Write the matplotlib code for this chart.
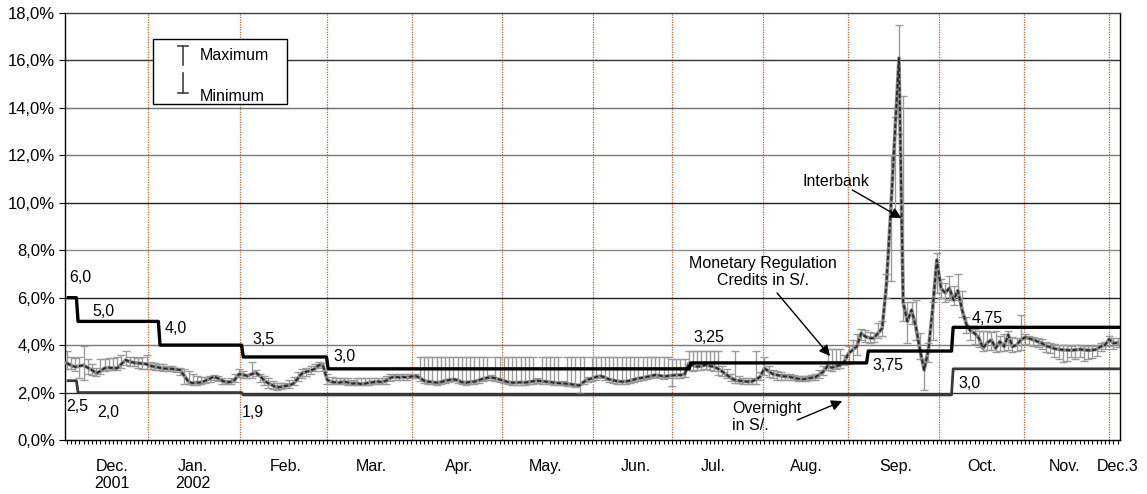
import numpy as np
import matplotlib
matplotlib.use("Agg")
import matplotlib.pyplot as plt
from matplotlib.patches import Rectangle
from matplotlib.lines import Line2D
from matplotlib.ticker import FuncFormatter

plt.rcParams['font.family'] = ['Liberation Sans', 'DejaVu Sans']

# interbank rate (%), one value per business day, Dec 2001 - Dec 3 2002
rate_dec01 = [3.24, 3.15, 3.08, 3.12, 3.15, 3.05, 2.95, 2.82, 2.90, 3.03, 3.05, 3.03, 3.03, 3.20, 3.37, 3.30, 3.26, 3.24, 3.22, 3.20]
rate_jan = [3.12, 3.09, 3.05, 3.02, 3.00, 3.00, 2.98, 2.95, 2.70, 2.45, 2.40, 2.42, 2.43, 2.50, 2.58, 2.67, 2.60, 2.50, 2.43, 2.45, 2.54, 2.78]
rate_feb = [2.75, 2.70, 2.78, 2.84, 2.70, 2.50, 2.39, 2.30, 2.22, 2.24, 2.28, 2.30, 2.39, 2.60, 2.81, 2.88, 2.92, 3.00, 3.16, 3.12]
rate_mar = [2.53, 2.45, 2.43, 2.42, 2.46, 2.42, 2.38, 2.40, 2.36, 2.38, 2.42, 2.44, 2.46, 2.44, 2.50, 2.62, 2.67, 2.64, 2.66, 2.64, 2.68]
rate_apr = [2.70, 2.62, 2.50, 2.46, 2.44, 2.42, 2.44, 2.50, 2.53, 2.56, 2.52, 2.44, 2.42, 2.45, 2.46, 2.52, 2.58, 2.62, 2.64, 2.60, 2.55]
rate_may = [2.50, 2.44, 2.42, 2.42, 2.43, 2.42, 2.45, 2.48, 2.50, 2.48, 2.46, 2.44, 2.42, 2.40, 2.39, 2.37, 2.35, 2.32, 2.30, 2.45, 2.55, 2.60]
rate_jun = [2.66, 2.70, 2.64, 2.56, 2.52, 2.48, 2.46, 2.47, 2.50, 2.55, 2.60, 2.62, 2.66, 2.70, 2.74, 2.72, 2.68, 2.70]
rate_jul = [2.72, 2.74, 2.74, 2.76, 3.23, 3.15, 3.09, 3.12, 3.16, 3.12, 3.09, 3.00, 2.88, 2.75, 2.62, 2.53, 2.50, 2.48, 2.46, 2.47, 2.55, 2.67]
rate_aug = [3.02, 2.90, 2.78, 2.74, 2.70, 2.68, 2.66, 2.62, 2.58, 2.56, 2.58, 2.62, 2.64, 2.75, 2.88, 3.12, 3.05, 3.10, 3.16, 3.30]
rate_sep = [3.65, 3.80, 3.95, 4.50, 4.36, 4.30, 4.29, 4.50, 4.70, 6.50, 9.50, 12.80, 16.10, 5.80, 5.00, 5.48, 4.80, 3.80, 2.95, 3.79, 5.50, 7.59]
rate_oct = [6.40, 6.20, 6.40, 5.90, 6.30, 5.50, 4.90, 4.60, 4.50, 4.30, 3.87, 4.10, 4.22, 3.87, 4.15, 3.94, 4.43, 3.94, 4.00, 4.22]
rate_nov = [4.33, 4.28, 4.22, 4.15, 4.08, 3.96, 3.92, 3.85, 3.82, 3.80, 3.79, 3.78, 3.80, 3.82, 3.80, 3.78, 3.79, 3.82, 3.94, 4.00]
rate_dec02 = [4.25, 4.08, 4.10]

# daily maximum
hi_dec01 = [3.75, 3.50, 3.45, 3.50, 3.95, 3.40, 3.20, 3.05, 3.40, 3.40, 3.45, 3.45, 3.50, 3.60, 3.75, 3.50, 3.50, 3.45, 3.50, 3.60]
hi_jan = [3.30, 3.25, 3.20, 3.20, 3.10, 3.10, 3.05, 3.05, 3.00, 2.90, 2.80, 2.70, 2.65, 2.65, 2.70, 2.75, 2.70, 2.60, 2.55, 2.60, 2.80, 3.00]
hi_feb = [2.90, 2.80, 3.30, 2.95, 2.80, 2.70, 2.60, 2.50, 2.40, 2.40, 2.40, 2.55, 2.65, 2.85, 3.00, 3.05, 3.10, 3.20, 3.30, 3.25]
hi_mar = [2.80, 2.65, 2.60, 2.60, 2.60, 2.60, 2.55, 2.60, 2.60, 2.60, 2.60, 2.60, 2.60, 2.60, 2.70, 2.78, 2.80, 2.80, 2.80, 2.78, 2.80]
hi_apr = [2.80, 3.48, 3.48, 3.48, 3.48, 3.48, 3.48, 3.48, 3.48, 3.48, 3.48, 3.48, 3.48, 3.48, 3.48, 3.48, 3.48, 3.48, 2.75, 3.48, 3.48]
hi_may = [3.48, 3.48, 3.48, 3.48, 3.48, 3.48, 3.48, 3.48, 2.60, 3.48, 3.48, 3.48, 3.48, 3.48, 2.50, 3.48, 3.48, 3.48, 3.48, 3.48, 2.65, 3.48]
hi_jun = [3.48, 3.48, 3.48, 3.48, 3.48, 3.48, 3.48, 3.48, 3.48, 3.48, 3.48, 3.48, 3.48, 3.48, 3.48, 3.48, 3.48, 3.48]
hi_jul = [3.40, 3.40, 3.40, 3.40, 3.77, 3.77, 3.77, 3.77, 3.77, 3.77, 3.77, 3.77, 3.10, 3.00, 2.80, 3.75, 2.70, 2.60, 2.60, 2.60, 3.77, 2.85]
hi_aug = [3.50, 3.10, 2.95, 2.90, 2.85, 2.80, 2.78, 2.75, 2.70, 2.68, 2.70, 2.75, 2.78, 2.95, 3.10, 3.85, 3.85, 3.85, 3.85, 3.60]
hi_sep = [3.95, 4.20, 4.45, 4.70, 4.65, 4.55, 4.50, 4.95, 5.00, 7.00, 12.00, 13.60, 17.50, 14.50, 5.80, 5.80, 5.90, 4.50, 3.40, 4.10, 5.80, 7.90]
hi_oct = [6.80, 6.60, 6.90, 6.50, 7.00, 6.30, 5.20, 4.80, 4.70, 4.60, 4.60, 4.60, 4.55, 4.60, 4.40, 4.45, 4.60, 4.35, 4.30, 5.25]
hi_nov = [4.45, 4.40, 4.35, 4.30, 4.25, 4.15, 4.10, 4.05, 4.00, 4.00, 4.00, 3.95, 4.00, 4.00, 3.98, 3.95, 3.98, 4.00, 4.10, 4.15]
hi_dec02 = [4.40, 4.30, 4.30]

# daily minimum
lo_dec01 = [3.00, 3.00, 2.90, 2.60, 2.55, 2.80, 2.75, 2.70, 2.80, 2.90, 2.95, 2.95, 2.95, 3.05, 3.15, 3.10, 3.10, 3.05, 3.00, 3.00]
lo_jan = [3.00, 2.95, 2.95, 2.90, 2.90, 2.90, 2.85, 2.75, 2.35, 2.35, 2.30, 2.30, 2.35, 2.40, 2.45, 2.55, 2.50, 2.35, 2.35, 2.35, 2.45, 2.65]
lo_feb = [2.60, 2.60, 2.60, 2.70, 2.45, 2.30, 2.20, 2.15, 2.10, 2.15, 2.20, 2.20, 2.30, 2.50, 2.60, 2.70, 2.80, 2.90, 3.05, 2.90]
lo_mar = [2.35, 2.35, 2.35, 2.35, 2.35, 2.30, 2.30, 2.30, 2.30, 2.30, 2.30, 2.35, 2.35, 2.35, 2.35, 2.50, 2.55, 2.55, 2.55, 2.55, 2.60]
lo_apr = [2.60, 2.50, 2.40, 2.35, 2.35, 2.32, 2.35, 2.40, 2.45, 2.48, 2.42, 2.35, 2.32, 2.35, 2.36, 2.42, 2.48, 2.52, 2.55, 2.50, 2.45]
lo_may = [2.40, 2.35, 2.32, 2.32, 2.33, 2.32, 2.35, 2.38, 2.40, 2.38, 2.36, 2.34, 2.32, 2.30, 2.30, 2.28, 2.26, 2.24, 1.98, 2.35, 2.45, 2.50]
lo_jun = [2.55, 2.60, 2.55, 2.45, 2.40, 2.38, 2.36, 2.37, 2.40, 2.45, 2.50, 2.52, 2.56, 2.60, 2.64, 2.62, 2.58, 2.60]
lo_jul = [2.28, 2.60, 2.62, 2.65, 2.95, 2.90, 2.95, 2.95, 3.00, 2.95, 2.90, 2.75, 2.70, 2.60, 2.50, 2.40, 2.40, 2.38, 2.36, 2.38, 2.35, 2.55]
lo_aug = [2.75, 2.65, 2.60, 2.55, 2.55, 2.55, 2.55, 2.52, 2.50, 2.50, 2.50, 2.52, 2.55, 2.62, 2.75, 2.95, 2.90, 3.00, 3.05, 3.15]
lo_sep = [3.20, 3.30, 3.60, 4.20, 4.15, 4.10, 4.15, 4.30, 4.40, 6.00, 6.70, 9.50, 12.90, 5.00, 4.10, 4.90, 4.20, 3.40, 2.10, 3.30, 4.20, 6.20]
lo_oct = [6.00, 5.80, 5.90, 5.70, 5.90, 5.20, 4.50, 4.20, 4.05, 3.90, 3.75, 3.80, 3.80, 3.72, 3.75, 3.75, 3.80, 3.72, 3.75, 3.80]
lo_nov = [4.05, 4.00, 3.95, 3.90, 3.85, 3.70, 3.65, 3.50, 3.40, 3.30, 3.35, 3.50, 3.40, 3.50, 3.35, 3.40, 3.45, 3.55, 3.75, 3.85]
lo_dec02 = [3.95, 3.85, 3.90]

# monetary regulation credits and overnight rates: day of change, level
credit_days = [0, 2.7, 22.2, 42.0, 62.2, 148.5, 190.7, 210.9]
credit_rates = [6.0, 5.0, 4.0, 3.5, 3.0, 3.25, 3.75, 4.75]
credit_labels = ['6,0', '5,0', '4,0', '3,5', '3,0', '3,25', '3,75', '4,75']
overnight_days = [0, 2.7, 42.0, 210.9]
overnight_rates = [2.5, 2.0, 1.9, 3.0]
overnight_labels = ['2,5', '2,0', '1,9', '3,0']

# month separators and axis labels
month_edges = [19.35, 41.2, 61.9, 82.2, 103.6, 125.2, 144.0, 165.6, 185.9, 207.6, 227.8, 248.0]
month_pos = [10.8, 30.1, 52.0, 72.6, 93.3, 114.0, 135.5, 153.8, 176.1, 197.3, 217.8, 237.5, 250.1]
month_names = ['Dec.\n2001', 'Jan.\n2002', 'Feb.', 'Mar.', 'Apr.', 'May.', 'Jun.', 'Jul.',
               'Aug.', 'Sep.', 'Oct.', 'Nov.', 'Dec.3']

rate = np.array(rate_dec01 + rate_jan + rate_feb + rate_mar + rate_apr + rate_may + rate_jun
                + rate_jul + rate_aug + rate_sep + rate_oct + rate_nov + rate_dec02)
hi = np.array(hi_dec01 + hi_jan + hi_feb + hi_mar + hi_apr + hi_may + hi_jun
              + hi_jul + hi_aug + hi_sep + hi_oct + hi_nov + hi_dec02)
lo = np.array(lo_dec01 + lo_jan + lo_feb + lo_mar + lo_apr + lo_may + lo_jun
              + lo_jul + lo_aug + lo_sep + lo_oct + lo_nov + lo_dec02)
days = np.arange(len(rate))
last_day = days[-1] + 0.6


def step_xy(starts, levels, end):
    # flat segments joined by a short slanted drop/rise
    xs, ys = [], []
    for i, (s, v) in enumerate(zip(starts, levels)):
        e = starts[i + 1] - 0.4 if i + 1 < len(starts) else end
        xs += [s, e]
        ys += [v, v]
    return xs, ys


fig = plt.figure(figsize=(11.47, 4.94), dpi=100)
ax = fig.add_axes([0.0567, 0.1093, 0.9198, 0.8644])
ax.set_xlim(-0.4, 250.6)
ax.set_ylim(0, 18)

# horizontal grid
grid_cols = {2: '#303030', 4: '#7a7a7a', 6: '#202020', 8: '#8a8a8a', 10: '#202020',
             12: '#7a7a7a', 14: '#707070', 16: '#303030'}
for lev, c in grid_cols.items():
    ax.axhline(lev, color=c, lw=1.0, zorder=1)

for m in month_edges:
    ax.axvline(m, color='#c4622d', lw=0.9, ls=(0, (1, 1)), zorder=1)

# interbank rate with daily max/min
ax.errorbar(days, rate, yerr=[rate - lo, hi - rate], fmt='none', ecolor='#9b9b9b',
            elinewidth=1.0, capsize=3, capthick=1.0, zorder=2)
ax.plot(days, rate, color='#8c8c8c', lw=2.6, zorder=3)
ax.plot(days, rate, color='#2a2a2a', lw=1.4, ls=(0, (2.2, 1.2)), zorder=4)

cx, cy = step_xy(credit_days, credit_rates, last_day)
ax.plot(cx, cy, color='black', lw=2.4, zorder=5, solid_capstyle='butt')
ox, oy = step_xy(overnight_days, overnight_rates, last_day)
ax.plot(ox, oy, color='#3a3a3a', lw=2.0, zorder=5, solid_capstyle='butt')

# level labels
credit_lab_xy = [(0.6, 6.87), (6.0, 5.40), (23.4, 4.68), (44.3, 4.22), (63.4, 3.50),
                 (149.0, 4.34), (191.8, 3.12), (215.4, 5.14)]
for (x, y), t in zip(credit_lab_xy, credit_labels):
    ax.text(x, y, t, fontsize=11.5, ha='left', va='center', zorder=6)
overnight_lab_xy = [(-0.2, 1.43), (7.2, 1.14), (41.7, 1.14), (212.1, 2.40)]
for (x, y), t in zip(overnight_lab_xy, overnight_labels):
    ax.text(x, y, t, fontsize=11.5, ha='left', va='center', zorder=6)

arrow = dict(arrowstyle='-|>', color='black', lw=1.0, mutation_scale=16, shrinkA=0, shrinkB=0)
ax.text(183.0, 10.88, 'Interbank', fontsize=11.5, ha='center', va='center')
ax.annotate('', xy=(198.6, 9.35), xytext=(186.9, 10.54), arrowprops=arrow, zorder=7)
ax.text(165.7, 7.08, 'Monetary Regulation\nCredits in S/.', fontsize=11.5,
        ha='center', va='center', multialignment='center', linespacing=1.1)
ax.annotate('', xy=(181.6, 3.54), xytext=(169.0, 6.2), arrowprops=arrow, zorder=7)
ax.text(158.3, 0.97, 'Overnight\nin S/.', fontsize=11.5, ha='left', va='center',
        multialignment='left', linespacing=1.1)
ax.annotate('', xy=(184.5, 1.64), xytext=(173.8, 0.84), arrowprops=arrow, zorder=7)

# legend box
ax.add_patch(Rectangle((0.0834, 0.7869), 0.127, 0.1522, transform=ax.transAxes,
                       facecolor='white', edgecolor='black', lw=1.0, zorder=8))
lc = '#404040'
ax.add_line(Line2D([0.1118, 0.1118], [0.8782, 0.9227], transform=ax.transAxes, color=lc, lw=1.2, zorder=9))
ax.add_line(Line2D([0.1071, 0.1165], [0.9227, 0.9227], transform=ax.transAxes, color=lc, lw=1.2, zorder=9))
ax.add_line(Line2D([0.1118, 0.1118], [0.8126, 0.8595], transform=ax.transAxes, color=lc, lw=1.2, zorder=9))
ax.add_line(Line2D([0.1071, 0.1165], [0.8126, 0.8126], transform=ax.transAxes, color=lc, lw=1.2, zorder=9))
ax.text(0.128, 0.8993, 'Maximum', transform=ax.transAxes, fontsize=11.5, va='center', zorder=9)
ax.text(0.128, 0.8056, 'Minimum', transform=ax.transAxes, fontsize=11.5, va='center', zorder=9)

# axes
ax.set_yticks(np.arange(0, 19, 2))
ax.yaxis.set_major_formatter(FuncFormatter(lambda v, p: f"{v:.1f}%".replace('.', ',')))
ax.tick_params(axis='y', direction='out', length=4, labelsize=12, pad=3)
ax.set_xticks(month_pos)
ax.set_xticklabels(month_names, fontsize=11.5, linespacing=1.1)
ax.tick_params(axis='x', which='major', length=0, pad=14)
ax.set_xticks(days, minor=True)
ax.tick_params(axis='x', which='minor', direction='out', length=3, width=0.8)
for s in ax.spines.values():
    s.set_color('black')
    s.set_linewidth(1.0)
ax.spines['top'].set_color('#404040')

fig.savefig('out.png', dpi=100)
